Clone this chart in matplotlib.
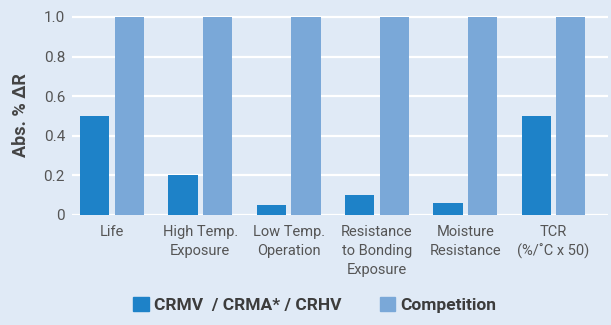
import matplotlib.pyplot as plt
import numpy as np
from matplotlib.patches import Patch

# test categories and results (Abs. % change in resistance)
categories = ["Life", "High Temp.\nExposure", "Low Temp.\nOperation",
              "Resistance\nto Bonding\nExposure", "Moisture\nResistance",
              "TCR\n(%/˚C x 50)"]
crmv = [0.50, 0.20, 0.05, 0.10, 0.06, 0.50]
competition = [1.0, 1.0, 1.0, 1.0, 1.0, 1.0]
yticks = [0, 0.2, 0.4, 0.6, 0.8, 1.0]
ytick_labels = ["0", "0.2", "0.4", "0.6", "0.8", "1.0"]

bg = "#e0eaf6"
dark = "#1e82c8"
light = "#7aa8d8"
txt = "#555555"
font = ["Liberation Sans Narrow", "Roboto", "DejaVu Sans"]
plt.rcParams["font.family"] = font

fig = plt.figure(figsize=(6.11, 3.25), dpi=100, facecolor=bg)
ax = fig.add_axes([72 / 611, 110 / 325, 536 / 611, 200 / 325])
ax.set_facecolor(bg)

x = np.arange(len(categories))
w = 0.332
ax.bar(x - 0.196, crmv, w, color=dark, zorder=3)
ax.bar(x + 0.196, competition, w, color=light, zorder=3)

ax.set_xlim(-0.453, 5.617)
ax.set_ylim(0, 1.01)
ax.set_yticks(yticks)
ax.set_yticklabels(ytick_labels, fontsize=11, color=txt)
ax.set_xticks(x)
ax.set_xticklabels(categories, fontsize=10.5, color=txt, linespacing=1.45)
ax.tick_params(axis="x", length=0, pad=7)
ax.tick_params(axis="y", length=0, pad=5)
ax.grid(axis="y", color="white", linewidth=1.6, zorder=1)
for s in ax.spines.values():
    s.set_visible(False)

ax.set_ylabel("Abs. % ΔR", fontsize=13, fontweight="bold", color="#444444", labelpad=10)

handles = [Patch(color=dark), Patch(color=light)]
fig.legend(handles, ["CRMV  / CRMA* / CRHV", "Competition"], loc="center",
           bbox_to_anchor=(0.515, 20 / 325), ncol=2, frameon=False,
           prop={"family": font, "weight": "bold", "size": 12.5},
           labelcolor="#3c3c3c", handlelength=0.9, handleheight=0.9,
           handletextpad=0.3, columnspacing=2.2)

fig.savefig("out.png", dpi=100, facecolor=bg)
